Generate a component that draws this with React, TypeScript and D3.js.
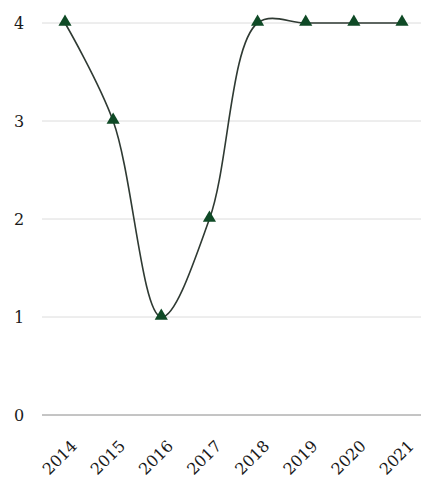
import React from "react";
import * as d3 from "d3";

const years = ["2014", "2015", "2016", "2017", "2018", "2019", "2020", "2021"];
const values = [4, 3, 1, 2, 4, 4, 4, 4];
const yTicks = [0, 1, 2, 3, 4];

const W = 421;
const H = 478;
const FONT = "'DejaVu Serif', 'Liberation Serif', serif";

export default function App() {
  const x = d3.scalePoint<string>().domain(years).range([65, 402]);
  const y = d3.scaleLinear().domain([0, 4]).range([415, 23]);
  const line = d3
    .line<number>()
    .x((_, i) => x(years[i]) as number)
    .y((d) => y(d))
    .curve(d3.curveCatmullRom.alpha(0.5));
  const tri = d3.symbol().type(d3.symbolTriangle).size(75)() as string;

  return (
    <svg
      width={W}
      height={H}
      style={{ position: "absolute", left: 0, top: 0, background: "#fff" }}
    >
      {yTicks.map((t) => (
        <g key={t}>
          <line
            x1={42}
            x2={W}
            y1={y(t)}
            y2={y(t)}
            stroke={t === 0 ? "#8a8a8a" : "#dcdcdc"}
            strokeWidth={1}
          />
          <text
            x={19}
            y={y(t)}
            dy="0.35em"
            textAnchor="middle"
            fontFamily={FONT}
            fontSize={16}
            fill="#1a1a1a"
          >
            {t}
          </text>
        </g>
      ))}
      <path d={line(values) || ""} fill="none" stroke="#2f3a33" strokeWidth={1.6} />
      {values.map((v, i) => (
        <path
          key={i}
          d={tri}
          transform={`translate(${x(years[i])},${y(v) - 1})`}
          fill="#0f4a26"
        />
      ))}
      {years.map((yr) => (
        <text
          key={yr}
          transform={`translate(${(x(yr) as number) + 13},${447}) rotate(-45)`}
          textAnchor="end"
          fontFamily={FONT}
          fontSize={16}
          fill="#1a1a1a"
        >
          {yr}
        </text>
      ))}
    </svg>
  );
}
